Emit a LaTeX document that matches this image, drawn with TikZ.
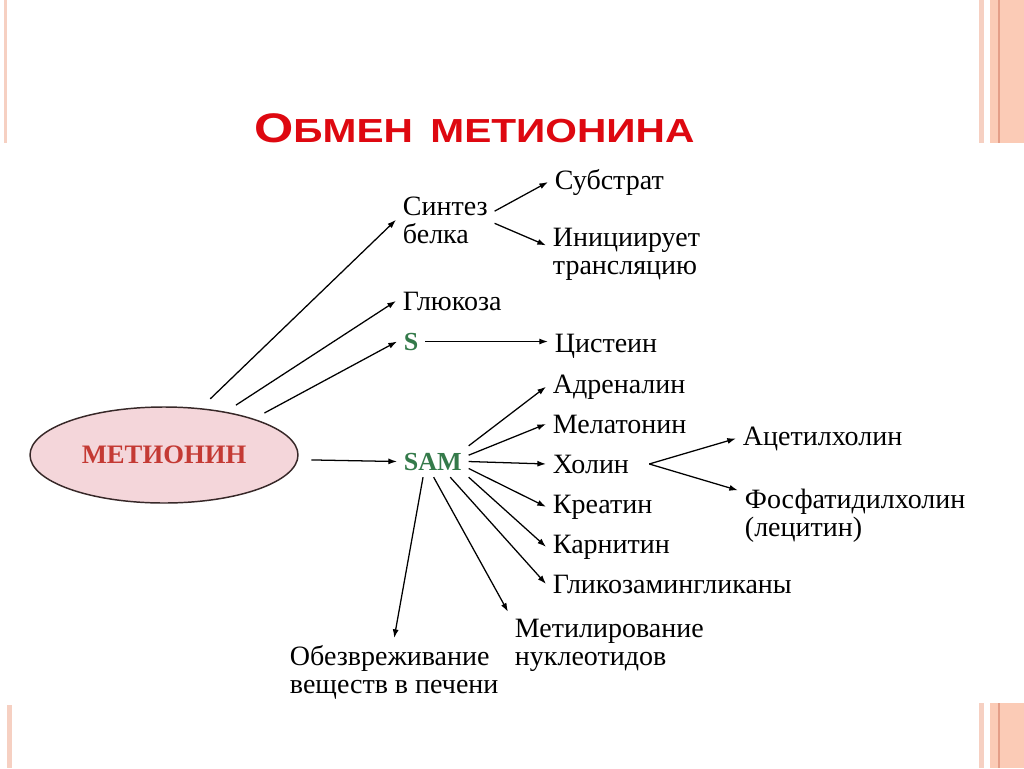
\documentclass[tikz,border=0pt]{standalone}
\usepackage{fontspec}
\setmainfont{Liberation Serif}
\newfontfamily\titlefont[FakeStretch=1.22]{Liberation Sans}
\usetikzlibrary{arrows.meta,shapes.geometric}
\definecolor{titleRed}{RGB}{222,8,16}
\definecolor{ovalFill}{RGB}{244,214,218}
\definecolor{ovalStroke}{RGB}{55,40,40}
\definecolor{ovalText}{RGB}{196,58,52}
\definecolor{samGreen}{RGB}{52,122,74}
\definecolor{stripLight}{RGB}{246,208,194}
\definecolor{stripSalmon}{RGB}{251,203,182}
\definecolor{stripDark}{RGB}{228,158,136}
\newcommand{\edgestrips}[2]{%
  \fill[stripLight] (979,#1) rectangle (984,#2);
  \fill[stripSalmon] (990,#1) rectangle (1024,#2);
  \draw[stripDark,line width=0.8pt] (999,#1)--(999,#2);
}

\begin{document}
\begin{tikzpicture}[x=0.75pt,y=-0.75pt,
  term/.style={anchor=base west,inner sep=5pt,align=left,font=\fontsize{21}{21}\selectfont},
  samlabel/.style={term,text=samGreen,font=\fontsize{19.5}{21}\selectfont\bfseries},
  arr/.style={-{Latex[length=6.5pt,width=4.5pt]},line width=0.95pt}]
  \useasboundingbox (0,0) rectangle (1024,768);
  \fill[white] (0,0) rectangle (1024,768);
  % slide strips
  \fill[stripLight] (4,0) rectangle (7,143);
  \fill[stripLight] (7,705) rectangle (12,768);
  \edgestrips{0}{143}
  \edgestrips{703}{768}
  % title
  \node[anchor=base west,inner sep=0,text=titleRed,font=\titlefont\bfseries] (title) at (254,142)
    {{\fontsize{31}{31}\selectfont О}{\fontsize{25}{25}\selectfont БМЕН\hspace{4.5pt} МЕТИОНИНА}};
  % source
  \node[ellipse,draw=ovalStroke,line width=1.1pt,fill=ovalFill,minimum width=201pt,minimum height=72pt,
    inner sep=0,text=ovalText,font=\fontsize{20}{21}\selectfont\bfseries] (met) at (164,455) {МЕТИОНИН};
  % first level (base = last line)
  \node[term] (sint) at (396,243) {Синтез\\белка};
  \node[term] (gluk) at (396,310) {Глюкоза};
  \node[samlabel] (sulf) at (397,350) {S};
  \node[samlabel] (sam) at (397,470) {SAM};
  % second level
  \node[term] (subs) at (548,189) {Субстрат};
  \node[term] (init) at (546,274) {Инициирует\\трансляцию};
  \node[term] (cyst) at (548,352) {Цистеин};
  \node[term] (adr) at (546,393) {Адреналин};
  \node[term] (mel) at (546,433) {Мелатонин};
  \node[term] (xol) at (546,473) {Холин};
  \node[term] (kreat) at (546,513) {Креатин};
  \node[term] (karn) at (546,553) {Карнитин};
  \node[term] (glik) at (546,593) {Гликозамингликаны};
  \node[term] (metil) at (508,665) {Метилирование\\нуклеотидов};
  \node[term] (obez) at (283,693) {Обезвреживание\\веществ в печени};
  % third level
  \node[term] (acet) at (736,445) {Ацетилхолин};
  \node[term] (fos) at (738,536) {Фосфатидилхолин\\(лецитин)};

  \draw[arr,shorten <=10pt] (met.52) -- (sint.west);
  \draw[arr,shorten <=9pt] (met.35) -- (gluk.west);
  \draw[arr,shorten <=9pt] (met.22) -- (sulf.west);
  \draw[arr,shorten <=10pt] (met.-2) -- (sam.west);
  \draw[arr] (sint.10) -- (subs.west);
  \draw[arr] (sint.-4) -- (init.174);
  \draw[arr] (sulf.east) -- (cyst.west |- sulf.east);
  \draw[arr] (sam.north east) -- (adr.west);
  \draw[arr] (sam.10) -- (mel.west);
  \draw[arr] (sam.east) -- (xol.west);
  \draw[arr] (sam.-11) -- (kreat.west);
  \draw[arr] (sam.south east) -- (karn.west);
  \draw[arr] (sam.-42) -- (glik.west);
  \draw[arr] (sam.-87) -- (metil.north west);
  \draw[arr] (sam.-122) -- (obez.north);
  \draw[arr] ([xshift=10pt]xol.east) -- (acet.west);
  \draw[arr] ([xshift=10pt]xol.east) -- (fos.168);
\end{tikzpicture}
\end{document}
